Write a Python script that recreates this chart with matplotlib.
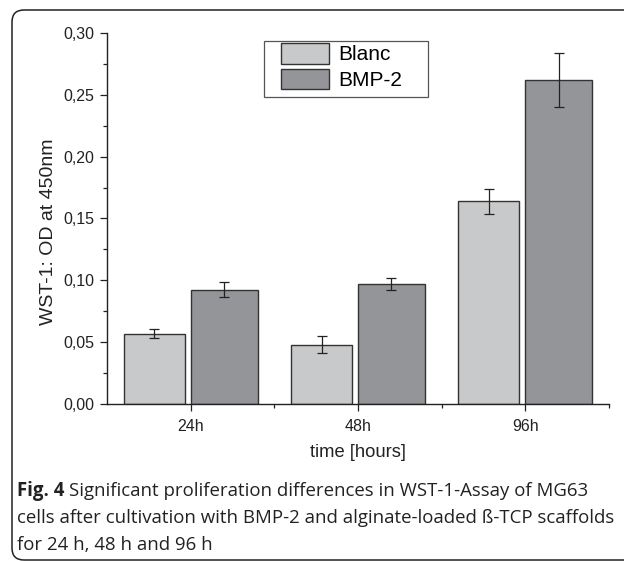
import numpy as np
import matplotlib.pyplot as plt
from matplotlib.patches import FancyBboxPatch, Rectangle
from matplotlib.ticker import FuncFormatter, MultipleLocator, FixedLocator

plt.rcParams['font.family'] = ['Liberation Sans', 'DejaVu Sans']

times = ['24h', '48h', '96h']
blanc = [0.057, 0.048, 0.164]
blanc_err = [0.0034, 0.007, 0.010]
bmp2 = [0.0925, 0.097, 0.262]
bmp2_err = [0.006, 0.005, 0.022]

fig = plt.figure(figsize=(6.24, 5.61), dpi=100)

# rounded frame around the panel, in pixels (runs off the right edge)
frame = FancyBboxPatch((12, 1), 700, 550, boxstyle='round,pad=0,rounding_size=12',
                       transform=None, fill=False, edgecolor='#222222', lw=1.1)
fig.patches.append(frame)

ax = fig.add_axes([107 / 624, 157 / 561, 502 / 624, 371 / 561])

x = np.arange(1, len(times) + 1)
ekw = dict(ecolor='#222222', elinewidth=0.9, capsize=3.3, capthick=0.9)
ax.bar(x - 0.4, blanc, 0.365, align='edge', color='#c8c9cb', edgecolor='#333333',
       lw=1.0, label='Blanc')
ax.bar(x, bmp2, 0.4, align='edge', color='#939598', edgecolor='#333333',
       lw=1.0, label='BMP-2')
ax.errorbar(x - 0.4 + 0.365 / 2, blanc, yerr=blanc_err, fmt='none', **ekw)
ax.errorbar(x + 0.2, bmp2, yerr=bmp2_err, fmt='none', **ekw)

ax.set_xlim(0.5, 3.5)
ax.set_ylim(0, 0.30)
ax.set_xticks(x)
ax.set_xticklabels(times)
ax.xaxis.set_minor_locator(FixedLocator([1.5, 2.5, 3.5]))
ax.yaxis.set_major_locator(MultipleLocator(0.05))
ax.yaxis.set_minor_locator(MultipleLocator(0.025))
ax.yaxis.set_major_formatter(FuncFormatter(lambda v, p: f'{v:.2f}'.replace('.', ',')))

for s in ['top', 'right']:
    ax.spines[s].set_visible(False)
for s in ['left', 'bottom']:
    ax.spines[s].set_color('#222222')
    ax.spines[s].set_linewidth(1.0)

ax.tick_params(axis='both', which='major', length=5, width=0.9, color='#222222',
               labelsize=11.5, labelcolor='#222222')
ax.tick_params(axis='both', which='minor', length=3, width=0.9, color='#222222')
ax.tick_params(axis='x', which='major', pad=6)
ax.tick_params(axis='y', which='major', pad=4)

ax.set_xlabel('time [hours]', fontsize=13.2, color='#222222')
ax.xaxis.set_label_coords(0.5, -0.108)
ax.set_ylabel('WST-1: OD at 450nm', fontsize=14, color='#222222')
ax.yaxis.set_label_coords(-0.1, 0.465)

# legend without its own frame; a wider box is drawn behind it
leg = ax.legend(loc='upper left', bbox_to_anchor=(0.3466, 0.973), fontsize=15,
                frameon=False, handlelength=2.3, handleheight=1.15,
                handletextpad=0.45, borderpad=0, labelspacing=0.2,
                borderaxespad=0)
fig.patches.append(Rectangle((264, 561 - 97), 164, 56, transform=None, fill=False,
                             edgecolor='#555555', lw=0.9))

# caption
cap_font = ['Open Sans', 'DejaVu Sans']
cap_size = 13.4
fig.canvas.draw()
t0 = fig.text(17 / 624, 1 - 491 / 561, 'Fig. 4', fontsize=cap_size, fontweight='bold',
              family=cap_font, color='#222222', va='center')
bb = t0.get_window_extent(renderer=fig.canvas.get_renderer())
fig.text((bb.x1 + 5) / 624, 1 - 491 / 561,
         'Significant proliferation differences in WST-1-Assay of MG63',
         fontsize=cap_size, family=cap_font, color='#222222', va='center')
fig.text(17 / 624, 1 - 518 / 561,
         'cells after cultivation with BMP-2 and alginate-loaded \u00df-TCP scaffolds',
         fontsize=cap_size, family=cap_font, color='#222222', va='center')
fig.text(17 / 624, 1 - 545 / 561, 'for 24 h, 48 h and 96 h',
         fontsize=cap_size, family=cap_font, color='#222222', va='center')

fig.savefig('out.png', dpi=100)
